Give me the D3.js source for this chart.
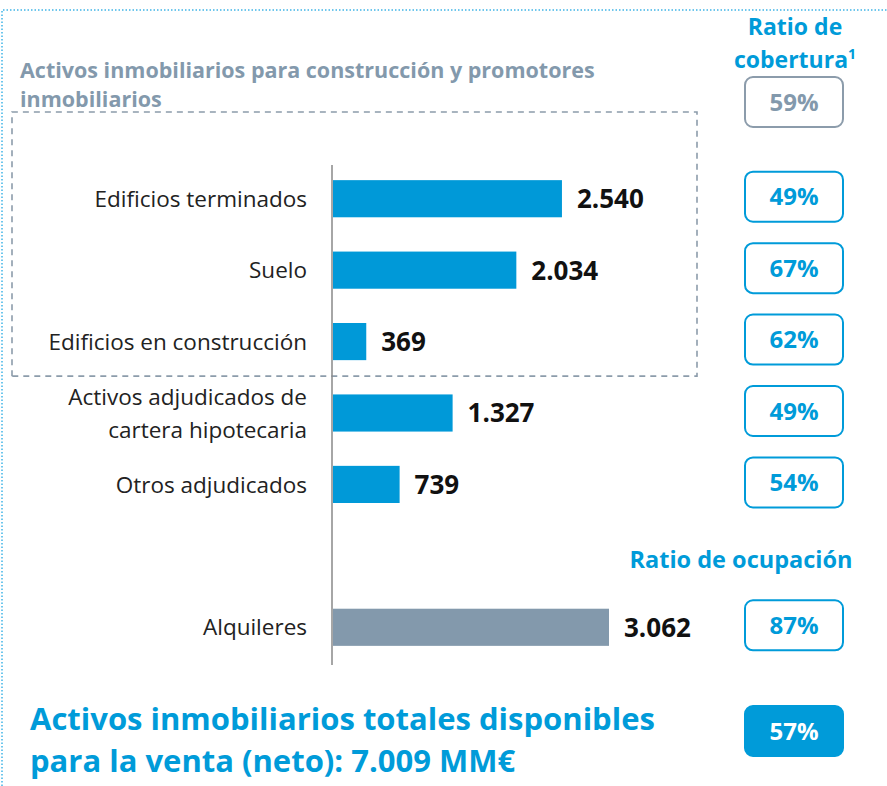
<!DOCTYPE html>
<head>
<meta charset="utf-8">
<script src="https://d3js.org/d3.v7.min.js"></script>
<style>
body { margin:0; background:#fff; }
text { font-family: "Open Sans", sans-serif; }
</style>
</head>
<body>
<script>

var categories = ["Edificios terminados", "Suelo", "Edificios en construcción",
  "Activos adjudicados de|cartera hipotecaria", "Otros adjudicados", "", "Alquileres"];
var values = [2540, 2034, 369, 1327, 739, null, 3062];
var valueLabels = ["2.540", "2.034", "369", "1.327", "739", "", "3.062"];
var ratios = ["49%", "67%", "62%", "49%", "54%", "", "87%"];
var groupRatio = "59%";
var totalRatio = "57%";
var groupTitle = ["Activos inmobiliarios para construcción y promotores", "inmobiliarios"];
var totalTitle = ["Activos inmobiliarios totales disponibles", "para la venta (neto): 7.009 MM€"];

var width = 887, height = 786;
var blue = "#009bd9", slate = "#8399ac", grayLine = "#8c9cab";

var svg = d3.select("body").append("svg")
    .attr("width", width)
    .attr("height", height);

// outer dotted frame
svg.append("path")
    .attr("d", "M2,786V10H887")
    .attr("fill", "none")
    .attr("stroke", "#3fb4e6")
    .attr("stroke-width", 1.5)
    .attr("stroke-dasharray", "1.5,2");

var x = d3.scaleLinear().domain([0, 3062]).range([333, 609]);
var y = d3.scaleBand().domain(d3.range(categories.length)).range([163, 663]).paddingInner(0.48).paddingOuter(0.24);

var rows = categories.map(function(c, i) {
  return {i: i, label: c, value: values[i], text: valueLabels[i], ratio: ratios[i]};
}).filter(function(d) { return d.value != null; });

// dashed group box
var boxBottom = y(2) + y.bandwidth() + 16;
svg.append("path")
    .attr("d", "M12," + boxBottom + "V112H697V" + boxBottom + "H12")
    .attr("fill", "none")
    .attr("stroke", grayLine)
    .attr("stroke-width", 1.6)
    .attr("stroke-dasharray", "6,5");

svg.selectAll(".gtitle")
  .data(groupTitle)
  .enter().append("text")
    .attr("x", 20)
    .attr("y", function(d, i) { return 78 + i * 29; })
    .attr("fill", slate)
    .attr("font-weight", "bold")
    .attr("font-size", 21.5)
    .text(function(d) { return d; });

// bars
svg.selectAll(".bar")
  .data(rows)
  .enter().append("rect")
    .attr("x", x(0))
    .attr("y", function(d) { return y(d.i); })
    .attr("height", y.bandwidth())
    .attr("width", function(d) { return x(d.value) - x(0); })
    .attr("fill", function(d) { return d.i == 6 ? "#8399ac" : "#0099d8"; });

// axis line
svg.append("line")
    .attr("x1", 332).attr("x2", 332)
    .attr("y1", 165).attr("y2", 665)
    .attr("stroke", "#888").attr("stroke-width", 1.5);

// value labels
svg.selectAll(".val")
  .data(rows)
  .enter().append("text")
    .attr("x", function(d) { return x(d.value) + 15; })
    .attr("y", function(d) { return y(d.i) + y.bandwidth() / 2; })
    .attr("dy", "0.36em")
    .attr("font-weight", "bold")
    .attr("font-size", 26)
    .attr("fill", "#111")
    .text(function(d) { return d.text; });

// category labels
var cat = svg.selectAll(".cat")
  .data(rows)
  .enter().append("text")
    .attr("text-anchor", "end")
    .attr("font-size", 22.5)
    .attr("fill", "#222");
cat.each(function(d) {
  var lines = d.label.split("|");
  var cy = y(d.i) + y.bandwidth() / 2;
  d3.select(this).selectAll("tspan")
    .data(lines)
    .enter().append("tspan")
      .attr("x", 307)
      .attr("y", function(l, k) { return cy + (k - (lines.length - 1) / 2) * 33; })
      .attr("dy", "0.36em")
      .text(function(l) { return l; });
});

// right column headers
svg.selectAll(".rhead")
  .data(["Ratio de", "cobertura"])
  .enter().append("text")
    .attr("x", 795)
    .attr("y", function(d, i) { return 35 + i * 33; })
    .attr("text-anchor", "middle")
    .attr("font-weight", "bold")
    .attr("font-size", 23)
    .attr("fill", blue)
    .text(function(d) { return d; })
  .filter(function(d, i) { return i == 1; })
  .append("tspan")
    .attr("dy", -9)
    .attr("font-size", 14)
    .text("1");

svg.append("text")
    .attr("x", 741)
    .attr("y", 568)
    .attr("text-anchor", "middle")
    .attr("font-weight", "bold")
    .attr("font-size", 23.5)
    .attr("fill", blue)
    .text("Ratio de ocupación");

function ratioBox(cy, label, stroke, fill, color) {
  svg.append("rect")
      .attr("x", 745).attr("y", cy - 25)
      .attr("width", 98).attr("height", 50)
      .attr("rx", 8)
      .attr("fill", fill)
      .attr("stroke", stroke)
      .attr("stroke-width", 2);
  svg.append("text")
      .attr("x", 794).attr("y", cy)
      .attr("dy", "0.36em")
      .attr("text-anchor", "middle")
      .attr("font-weight", "bold")
      .attr("font-size", 24)
      .attr("fill", color)
      .text(label);
}

ratioBox(102, groupRatio, grayLine, "#fff", slate);
rows.forEach(function(d) {
  ratioBox(y(d.i) + y.bandwidth() / 2 - 2, d.ratio, blue, "#fff", blue);
});
ratioBox(731, totalRatio, blue, blue, "#fff");

// total
svg.selectAll(".total")
  .data(totalTitle)
  .enter().append("text")
    .attr("x", 30)
    .attr("y", function(d, i) { return 730 + i * 42; })
    .attr("font-weight", "bold")
    .attr("font-size", 31)
    .attr("fill", blue)
    .text(function(d) { return d; });

</script>
</body>
